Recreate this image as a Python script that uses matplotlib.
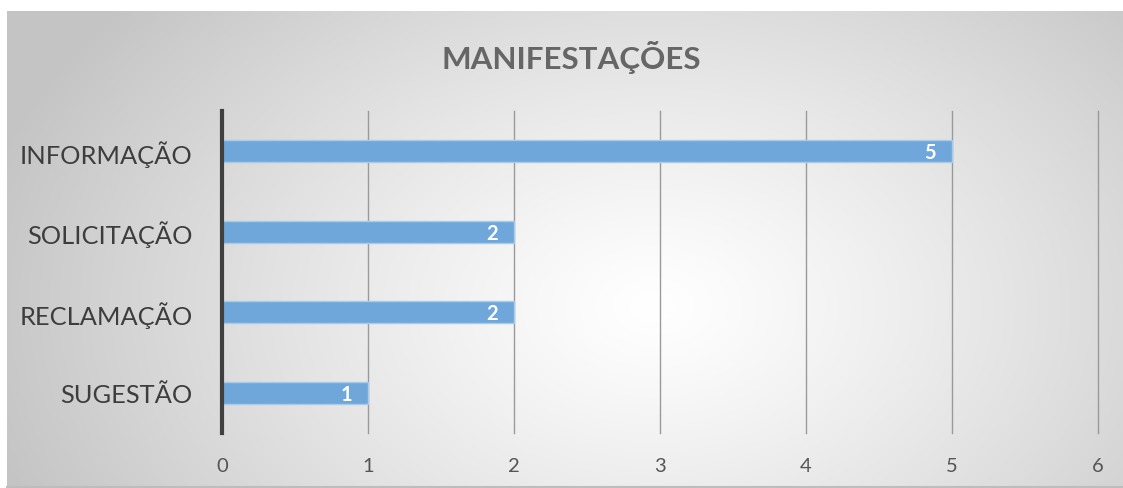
import numpy as np
import matplotlib
matplotlib.use("Agg")
import matplotlib.pyplot as plt

categories = ["INFORMAÇÃO", "SOLICITAÇÃO", "RECLAMAÇÃO", "SUGESTÃO"]
values = [5, 2, 2, 1]
x_ticks = [0, 1, 2, 3, 4, 5, 6]
title = "MANIFESTAÇÕES"

W, H = 1123, 489
plt.rcParams['font.family'] = ['Lato', 'DejaVu Sans']
fig = plt.figure(figsize=(W / 100, H / 100), dpi=100, facecolor="white")

# background gradient panel
bx0, by0, bx1, by1 = 7, 12, 1123, 489
bg = fig.add_axes([bx0 / W, 1 - by1 / H, (bx1 - bx0) / W, (by1 - by0) / H])
nx, ny = 400, 200
xs = np.linspace(0, 1, nx)
ys = np.linspace(0, 1, ny)
X, Y = np.meshgrid(xs, ys)
cx, cy = 0.58, 0.62
d = np.sqrt(((X - cx) / 0.62) ** 2 + ((Y - cy) / 1.0) ** 2)
t = np.clip(d, 0, 1) ** 1.2
white, gray = 1.0, 0.77
img = white * (1 - t) + gray * t
bg.imshow(np.dstack([img] * 3), aspect="auto", extent=[0, 1, 1, 0], interpolation="bilinear")
bg.set_axis_off()
bg.plot([0, 1], [0.002, 0.002], color="#bdbdbd", lw=1.5, transform=bg.transAxes, clip_on=False)

# main axes
left, right, top, bottom = 222, 1098, 112, 434
ax = fig.add_axes([left / W, 1 - bottom / H, (right - left) / W, (bottom - top) / H])
ax.patch.set_alpha(0)
ypos = np.arange(len(categories))
ax.barh(ypos, values, height=0.27, color="#6fa7da", edgecolor="#a9cbea", linewidth=1, zorder=3)
for y, v in zip(ypos, values):
    ax.text(v - 0.11, y + 0.01, str(v), color="white", fontsize=14.5, fontweight="bold",
            ha="right", va="center", zorder=4)

ax.set_xlim(0, 6)
ax.set_ylim(len(categories) - 0.5, -0.5)
ax.set_xticks(x_ticks)
ax.set_xticklabels([str(v) for v in x_ticks])
ax.set_yticks(ypos)
ax.set_yticklabels(categories)
ax.tick_params(axis="x", length=0, pad=17, labelsize=14.5, labelcolor="#555555")
ax.tick_params(axis="y", length=0, pad=21, labelsize=18.3, labelcolor="#3d3d3d")
ax.grid(axis="x", color="#9a9a9a", linewidth=1, zorder=1)
ax.grid(axis="y", visible=False)
for gl in ax.get_xgridlines():
    gl.set_clip_on(False)
for s in ["top", "right", "bottom"]:
    ax.spines[s].set_visible(False)
ax.spines["left"].set_color("#404040")
ax.spines["left"].set_linewidth(3)
ax.spines["left"].set_zorder(5)

fig.text(571 / W, 1 - 57 / H, title, ha="center", va="center", fontsize=22.6,
         fontweight="bold", color="#666666")

fig.savefig("out.png", dpi=100, facecolor="white")
